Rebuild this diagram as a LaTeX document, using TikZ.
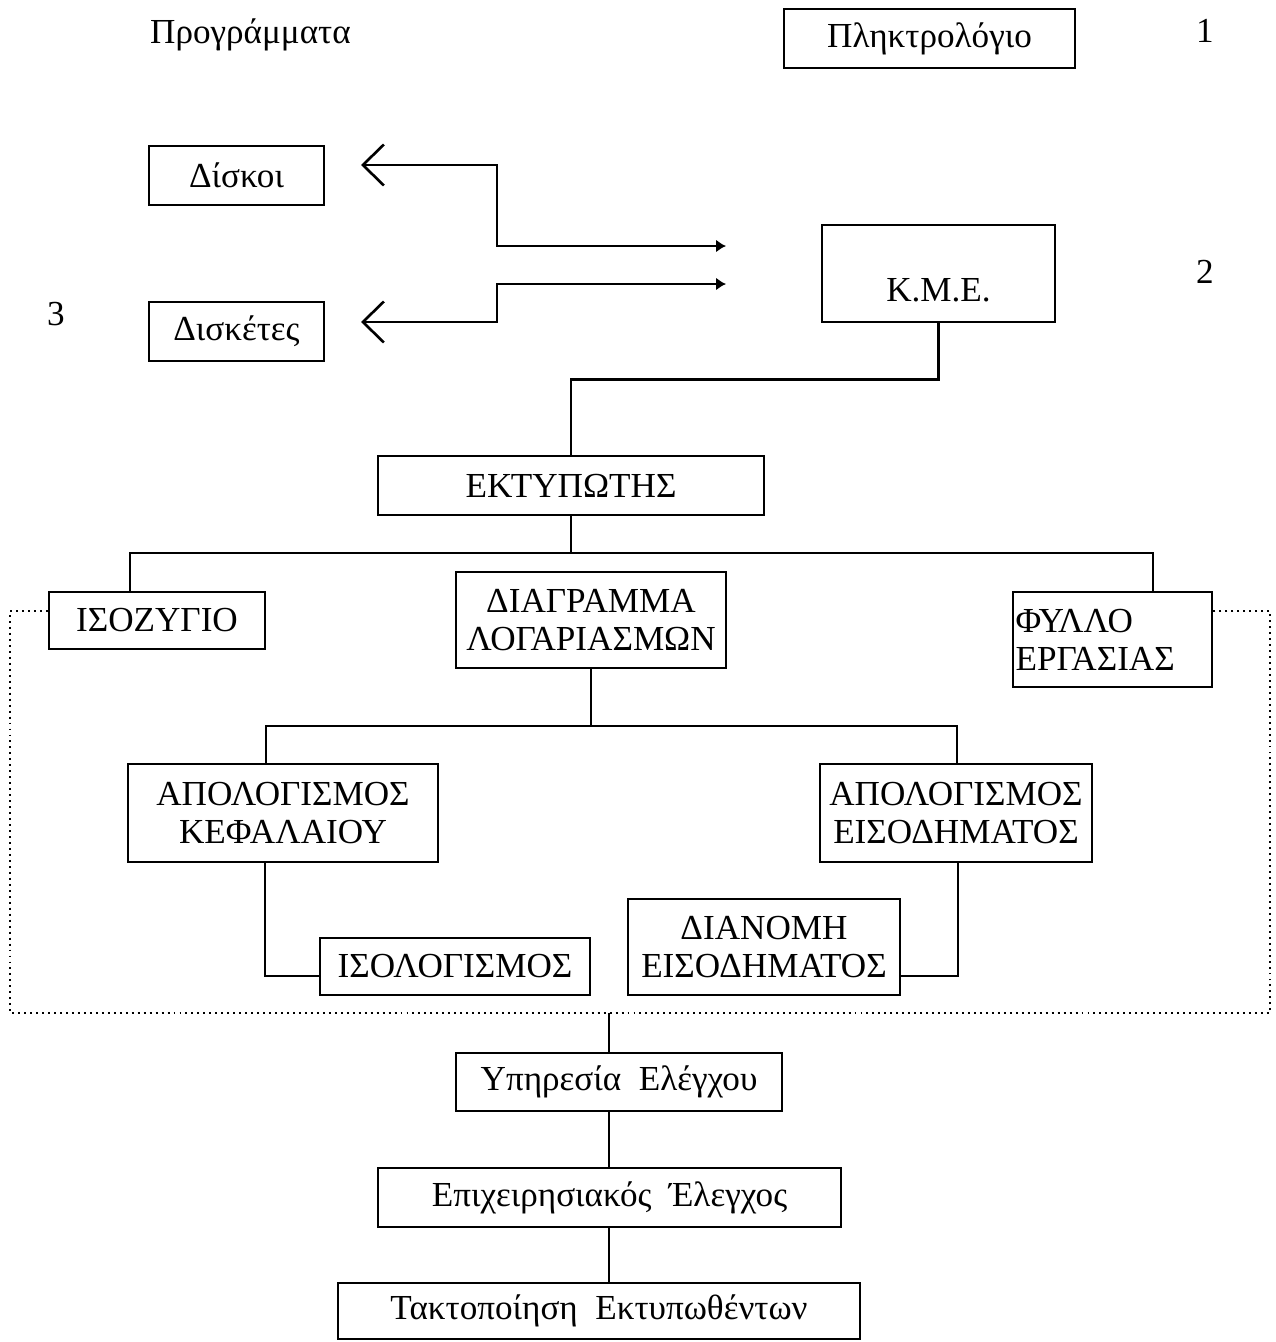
\documentclass[tikz,border=0pt]{standalone}
\usepackage{fontspec}
\setmainfont{Liberation Serif}
\usetikzlibrary{arrows.meta, positioning}

\tikzset{
  box/.style={draw, line width=1.4pt, inner sep=0pt, align=center},
  link/.style={line width=1.5pt},
  dotline/.style={line width=1.1pt, dash pattern=on 1.1pt off 2.3pt},
  io/.style={line width=1.5pt,
    {Straight Barb[length=0.42cm,width=0.82cm]}-{Latex[length=0.2cm,width=0.26cm]}}
}

\begin{document}
\begin{tikzpicture}[x=0.02cm, y=-0.02cm, font=\fontsize{20}{21.5}\selectfont]
\useasboundingbox (0,0) rectangle (1275,1342);

\node[anchor=base west] (prog) at (144,43) {Προγράμματα};
\node[box, minimum width=5.82cm, minimum height=1.18cm] (keyb) at (929.5,38.5) {Πληκτρολόγιο};
\node[anchor=base] (num1) at (1205,42) {1};
\node[box, minimum width=3.5cm, minimum height=1.18cm] (disk) at (236.5,175.5) {Δίσκοι};
\node[box, minimum width=3.5cm, minimum height=1.18cm] (dsk) at (236.5,331.5) {Δισκέτες};
\node[anchor=base] (num3) at (56,325) {3};
\node[box, minimum width=4.66cm, text height=1.54cm, text depth=0.4cm] (kme) at (938.5,273.5) {Κ.Μ.Ε.};
\node[anchor=base] (num2) at (1205,283) {2};
\node[box, minimum width=7.72cm, minimum height=1.18cm] (prn) at (571,485.5) {ΕΚΤΥΠΩΤΗΣ};

\node[box, minimum width=4.32cm, minimum height=1.14cm] (isoz) at (157,620.5) {ΙΣΟΖΥΓΙΟ};
\node[box, minimum width=5.4cm, minimum height=1.92cm] (diag) at (591,620) {ΔΙΑΓΡΑΜΜΑ\\ΛΟΓΑΡΙΑΣΜΩΝ};
\node[box, text width=3.88cm, inner xsep=0.05cm, align=left, minimum height=1.9cm] (fyl) at (1112.5,639.5) {ΦΥΛΛΟ\\ΕΡΓΑΣΙΑΣ};
\node[box, minimum width=6.2cm, minimum height=1.96cm] (apk) at (283,813) {ΑΠΟΛΟΓΙΣΜΟΣ\\ΚΕΦΑΛΑΙΟΥ};
\node[box, minimum width=5.44cm, minimum height=1.96cm] (ape) at (956,813) {ΑΠΟΛΟΓΙΣΜΟΣ\\ΕΙΣΟΔΗΜΑΤΟΣ};
\node[box, minimum width=5.4cm, minimum height=1.14cm] (isol) at (455,966.5) {ΙΣΟΛΟΓΙΣΜΟΣ};
\node[box, minimum width=5.44cm, minimum height=1.92cm] (dian) at (764,947) {ΔΙΑΝΟΜΗ\\ΕΙΣΟΔΗΜΑΤΟΣ};

\node[box, minimum width=6.52cm, minimum height=1.16cm] (yphr) at (619,1082) {Υπηρεσία\ \ Ελέγχου};
\node[box, minimum width=9.26cm, minimum height=1.18cm] (epix) at (609.5,1197.5) {Επιχειρησιακός\ \ Έλεγχος};
\node[box, minimum width=10.44cm, minimum height=1.12cm] (takt) at (599,1311) {Τακτοποίηση\ \ Εκτυπωθέντων};

% arrows between disks and CPU
\coordinate (dTip) at (361,165);
\coordinate (sTip) at (361,322);
\coordinate (kIn1) at (726,246);
\coordinate (kIn2) at (726,284);
\coordinate (bend) at (497,0);
\draw[io] (dTip) -| (bend |- kIn1) -- (kIn1);
\draw[io] (sTip) -| (bend |- kIn2) -- (kIn2);

\draw[link] (kme.south) -- ++(0,56) -| (prn.north);

\coordinate (busL) at (130,553);
\coordinate (busR) at (1153,553);
\draw[link] (prn.south) -- (prn.south |- busL);
\draw[link] (busL |- isoz.north) -- (busL) -- (busR) -- (busR |- fyl.north);

\coordinate (spL) at (266,726);
\coordinate (spR) at (957,726);
\draw[link] (diag.south) -- (diag.south |- spL);
\draw[link] (spL |- apk.north) -- (spL) -- (spR) -- (spR |- ape.north);

\coordinate (lowL) at (265,976);
\coordinate (lowR) at (958,976);
\draw[link] (lowL |- apk.south) -- (lowL) -- (lowL -| isol.west);
\draw[link] (lowR |- ape.south) -- (lowR) -- (lowR -| dian.east);

% dotted frame
\coordinate (fTL) at (10,611);
\coordinate (fBR) at (1270,1013);
\draw[dotline] (fTL -| isoz.west) -- (fTL) |- (fBR) -- (fBR |- fTL) -- (fTL -| fyl.east);

\coordinate (outA) at (609,1013);
\draw[link] (outA) -- (outA |- yphr.north);
\draw[link] (outA |- yphr.south) -- (outA |- epix.north);
\draw[link] (outA |- epix.south) -- (outA |- takt.north);
\end{tikzpicture}
\end{document}
